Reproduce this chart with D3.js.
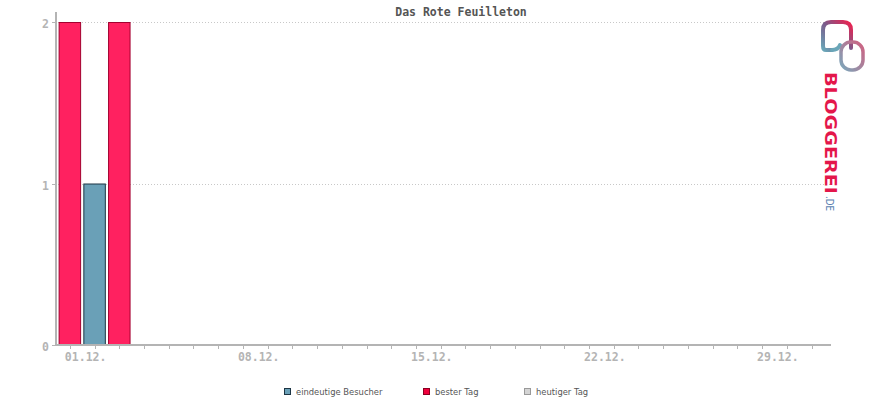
<!DOCTYPE html>
<html><head><meta charset="utf-8">
<script src="https://cdn.jsdelivr.net/npm/d3@7/dist/d3.min.js"></script>
<style>
html,body{margin:0;padding:0;background:#fff;}
svg{display:block;}
</style></head>
<body>
<script>
// ---- data ----
const title = "Das Rote Feuilleton";
const days = d3.range(1, 32);                // 1..31 December
const visitors = [2, 1, 2, 0, 0, 0, 0, 0, 0, 0, 0, 0, 0, 0, 0, 0, 0, 0, 0, 0, 0, 0, 0, 0, 0, 0, 0, 0, 0, 0, 0];
const xTickLabels = ["01.12.", "08.12.", "15.12.", "22.12.", "29.12."];
const xTickDays = [1, 8, 15, 22, 29];
const yTicks = [0, 1, 2];
const legendLabels = ["eindeutige Besucher", "bester Tag", "heutiger Tag"];

// ---- layout ----
const W = 870, H = 400;
const svg = d3.select("body").append("svg").attr("width", W).attr("height", H);
const mono = "'DejaVu Sans Mono', 'Liberation Mono', monospace";

const x = d3.scaleBand().domain(days).range([57.5, 823.9]).paddingInner(0.09).paddingOuter(0.045);
const y = d3.scaleLinear().domain([0, 2]).range([345, 22]);
const maxV = d3.max(visitors);

// title
svg.append("text").attr("x", 461).attr("y", 16).attr("text-anchor", "middle")
  .attr("font-family", mono).attr("font-weight", "bold").attr("font-size", 11.5)
  .attr("fill", "#555").text(title);

// grid lines
svg.append("g").selectAll("line").data(yTicks.filter(t => t > 0)).join("line")
  .attr("x1", 58).attr("x2", 830).attr("y1", d => Math.round(y(d)) + 0.5).attr("y2", d => Math.round(y(d)) + 0.5)
  .attr("stroke", "#c8c8c8").attr("stroke-width", 1).attr("stroke-dasharray", "1,2");

// bars
const data = days.map((d, i) => ({ day: d, v: visitors[i] }));
svg.append("g").selectAll("rect").data(data.filter(d => d.v > 0)).join("rect")
  .attr("x", d => x(d.day) + 0.5)
  .attr("y", d => y(d.v) + 0.5)
  .attr("width", x.bandwidth() - 1)
  .attr("height", d => y(0) - y(d.v))
  .attr("fill", d => d.v === maxV ? "#ff2160" : "#6aa0b7")
  .attr("stroke", d => d.v === maxV ? "#a3002f" : "#1d3544")
  .attr("stroke-width", 1);

// y axis
const yAxis = svg.append("g").attr("transform", "translate(56,0)");
yAxis.append("line").attr("x1", 0).attr("x2", 0).attr("y1", 12).attr("y2", 346)
  .attr("stroke", "#b4b4b4").attr("stroke-width", 2);
yAxis.selectAll("line.t").data(yTicks).join("line").attr("class", "t")
  .attr("x1", -4).attr("x2", 0).attr("y1", d => Math.round(y(d)) + 0.5).attr("y2", d => Math.round(y(d)) + 0.5)
  .attr("stroke", "#b4b4b4").attr("stroke-width", 1);
yAxis.selectAll("text").data(yTicks).join("text")
  .attr("x", -7).attr("y", d => y(d) + 6).attr("text-anchor", "end")
  .attr("font-family", mono).attr("font-weight", "bold").attr("font-size", 11.5)
  .attr("fill", "#b4b4b4").text(d => d);

// x axis
const xAxis = svg.append("g");
xAxis.append("line").attr("x1", 55).attr("x2", 831).attr("y1", 345).attr("y2", 345)
  .attr("stroke", "#b4b4b4").attr("stroke-width", 2);
xAxis.selectAll("line.t").data(days).join("line").attr("class", "t")
  .attr("x1", d => Math.round(x(d) + x.bandwidth() / 2) + 0.5)
  .attr("x2", d => Math.round(x(d) + x.bandwidth() / 2) + 0.5)
  .attr("y1", 345).attr("y2", 349).attr("stroke", "#b4b4b4").attr("stroke-width", 1);
xAxis.selectAll("text").data(xTickDays).join("text")
  .attr("x", d => x(d) + x.bandwidth() / 2 - 5).attr("y", 361)
  .attr("font-family", mono).attr("font-weight", "bold").attr("font-size", 11.5)
  .attr("fill", "#b4b4b4").text((d, i) => xTickLabels[i]);

// legend
const legFill = ["#6aa0b7", "#f0003c", "#d4d4d4"];
const legStroke = ["#1d3544", "#8a0020", "#999"];
const legX = [284, 423, 524];
const leg = svg.append("g");
legendLabels.forEach((l, i) => {
  leg.append("rect").attr("x", legX[i] + 0.5).attr("y", 388.5).attr("width", 6).attr("height", 6)
    .attr("fill", legFill[i]).attr("stroke", legStroke[i]);
  leg.append("text").attr("x", legX[i] + 12).attr("y", 395)
    .attr("font-family", "'DejaVu Sans', Verdana, sans-serif").attr("font-size", 8.4)
    .attr("fill", "#555").text(l);
});

// logo
const defs = svg.append("defs");
const g1 = defs.append("linearGradient").attr("id", "lg1").attr("gradientUnits", "userSpaceOnUse")
  .attr("x1", 0).attr("y1", 72).attr("x2", 0).attr("y2", 195);
g1.append("stop").attr("offset", 0).attr("stop-color", "#e3174a");
g1.append("stop").attr("offset", 0.5).attr("stop-color", "#9a3063");
g1.append("stop").attr("offset", 1).attr("stop-color", "#585a8e");
const g2 = defs.append("linearGradient").attr("id", "lg2").attr("x1", 0).attr("y1", 1).attr("x2", 1).attr("y2", 0);
g2.append("stop").attr("offset", 0).attr("stop-color", "#6aa6b8");
g2.append("stop").attr("offset", 0.5).attr("stop-color", "#7a5a8a");
g2.append("stop").attr("offset", 1).attr("stop-color", "#f0204e");
const g3 = defs.append("linearGradient").attr("id", "lg3").attr("x1", 0).attr("y1", 1).attr("x2", 1).attr("y2", 0);
g3.append("stop").attr("offset", 0).attr("stop-color", "#7aa8bc");
g3.append("stop").attr("offset", 1).attr("stop-color", "#d06080");

const logo = svg.append("g");
logo.append("path")
  .attr("d", "M832,50 L826,50 Q823,50 823,46 L823,30 Q823,22 831,22 L843,22 Q851,22 851,30 L851,48")
  .attr("fill", "none").attr("stroke", "url(#lg2)").attr("stroke-width", 4).attr("stroke-linecap", "round");
logo.append("path")
  .attr("d", "M832,50 Q838,50 840,45")
  .attr("fill", "none").attr("stroke", "#6aa6b8").attr("stroke-width", 4).attr("stroke-linecap", "round");
logo.append("rect").attr("x", 841).attr("y", 42).attr("width", 22).attr("height", 28).attr("rx", 10)
  .attr("fill", "none").attr("stroke", "url(#lg3)").attr("stroke-width", 3.5);

logo.append("text").attr("transform", "translate(825,72) rotate(90)")
  .attr("font-family", "'DejaVu Sans', sans-serif").attr("font-weight", "bold").attr("font-size", 16.5)
  .attr("textLength", 122).attr("lengthAdjust", "spacingAndGlyphs")
  .attr("fill", "url(#lg1)").text("BLOGGEREI");
logo.append("text").attr("transform", "translate(826,196) rotate(90)")
  .attr("font-family", "'DejaVu Sans', sans-serif").attr("font-size", 10)
  .attr("textLength", 15).attr("lengthAdjust", "spacingAndGlyphs")
  .attr("fill", "#5a7fb0").text(".DE");
</script>
</body></html>
